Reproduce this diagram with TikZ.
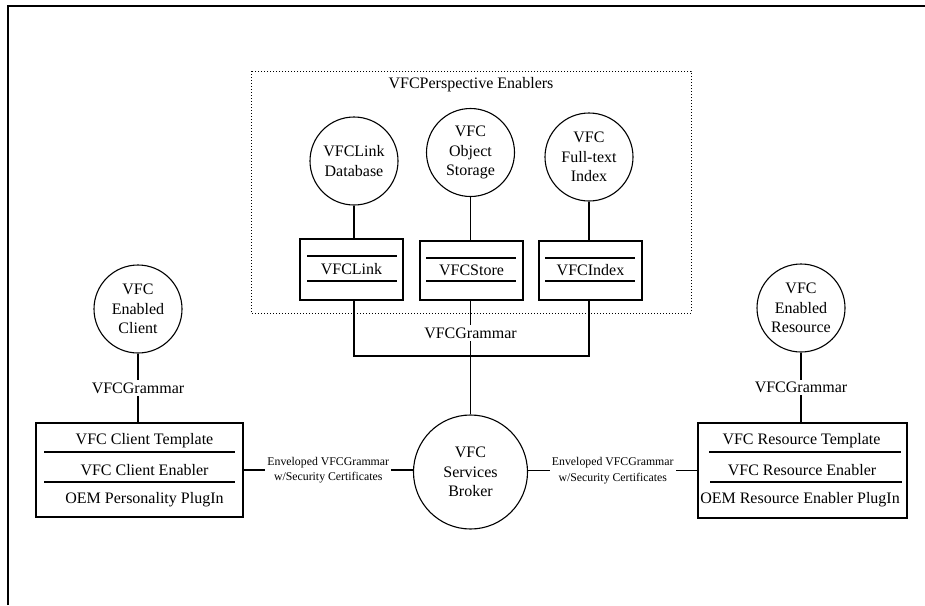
\documentclass[tikz,border=0pt]{standalone}
\usepackage{fontspec}
\setmainfont{Liberation Serif}
\begin{document}
\begin{tikzpicture}[x=1pt,y=-1pt, line width=1.1pt,
  txt/.style={font=\fontsize{16}{19.5}\selectfont, align=center, inner sep=0pt},
  circ/.style={circle, draw, minimum size=88pt, inner sep=0pt, font=\fontsize{16}{19.5}\selectfont, align=center},
  box/.style={draw, rectangle, inner sep=0pt, font=\fontsize{16}{19.5}\selectfont},
  lbl/.style={fill=white, inner sep=2.5pt, font=\fontsize{16}{19.5}\selectfont},
  small/.style={fill=white, inner sep=2pt, font=\fontsize{11.8}{15.5}\selectfont, align=center},
  frameline/.style={line width=1.8pt}]
\useasboundingbox (0,0) rectangle (925,605);
% frame
\draw[frameline] (8,605) -- (8,6) -- (925,6);
% perspective enablers group
\draw[dotted, line width=1pt] (251,71) rectangle (691,313);
\node[txt] (title) at (471,85) {VFCPerspective Enablers};
% circles
\node[circ] (c1) at (354,161) {VFCLink\\Database};
\node[circ] (c2) at (470.5,152.5) {VFC\\Object\\Storage};
\node[circ] (c3) at (589,157) {VFC\\Full-text\\Index};
\node[circ] (cc) at (138,309) {VFC\\Enabled\\Client};
\node[circ] (rc) at (801,308) {VFC\\Enabled\\Resource};
\node[circ, minimum size=114pt] (br) at (470.5,472) {VFC\\Services\\Broker};
% perspective boxes
\node[box, minimum width=103pt, minimum height=61pt] (b1) at (351.5,269.5) {VFCLink};
\node[box, minimum width=103pt, minimum height=59pt] (b2) at (471.5,270.5) {VFCStore};
\node[box, minimum width=103pt, minimum height=59pt] (b3) at (590.5,270.5) {VFCIndex};
\draw (307,256) -- (397,256);
\draw (307,281) -- (397,281);
\draw (426,258) -- (516,258);
\draw (426,281) -- (516,281);
\draw (545,258) -- (635,258);
\draw (545,281) -- (635,281);
% client box
\node[box, minimum width=207pt, minimum height=94pt] (cb) at (139.5,470) {};
\node[txt] (cb1) at (144.5,441) {VFC Client Template};
\node[txt] (cb2) at (144.5,470) {VFC Client Enabler};
\node[txt] (cb3) at (144.5,500) {OEM Personality PlugIn};
\draw (44,452) -- (235,452);
\draw (44,482) -- (235,482);
% resource box
\node[box, minimum width=209pt, minimum height=95pt] (rb) at (802.5,470.5) {};
\node[txt] (rb1) at (801.5,441) {VFC Resource Template};
\node[txt] (rb2) at (802,470) {VFC Resource Enabler};
\node[txt] (rb3) at (800,500) {OEM Resource Enabler PlugIn};
\draw (709,452) -- (901,452);
\draw (710,482) -- (902,482);
% connectors
\draw (c1.south) -- (c1.south |- b1.north);
\draw (c2.south) -- (c2.south |- b2.north);
\draw (c3.south) -- (c3.south |- b3.north);
\coordinate (jl) at (c1.south |- 0,356);
\coordinate (jr) at (c3.south |- 0,356);
\coordinate (jm) at (c2.south |- 0,356);
\draw (c1.south |- b1.south) -- (jl) -- (jr) -- (c3.south |- b3.south);
\draw (c2.south |- b2.south) -- node[lbl, pos=0.59] {VFCGrammar} (jm) -- (br.north);
\draw (cc.south) -- node[lbl] {VFCGrammar} (cc.south |- cb.north);
\draw (rc.south) -- node[lbl] {VFCGrammar} (rc.south |- rb.north);
\draw (cb.east) -- node[small] {Enveloped VFCGrammar\\w/Security Certificates} (cb.east -| br.west);
\draw (br.east |- rb.west) -- node[small] {Enveloped VFCGrammar\\w/Security Certificates} (rb.west);
\end{tikzpicture}
\end{document}
